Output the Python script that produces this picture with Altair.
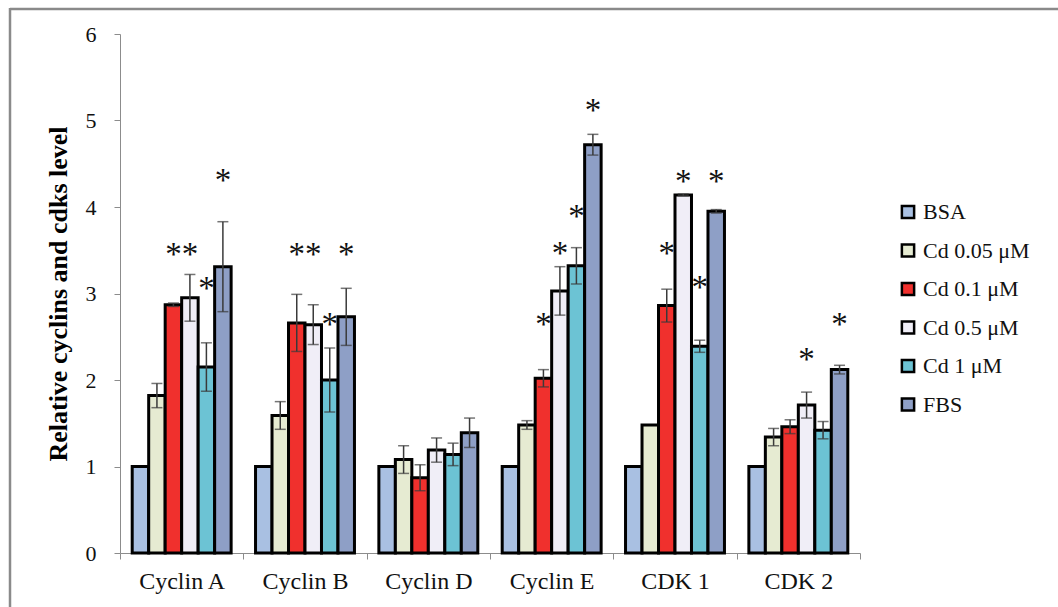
import altair as alt
import pandas as pd

# Protein groups on the x axis and the six culture treatments
categories = ["Cyclin A", "Cyclin B", "Cyclin D", "Cyclin E", "CDK 1", "CDK 2"]
treatments = ["BSA", "Cd 0.05 μM", "Cd 0.1 μM", "Cd 0.5 μM", "Cd 1 μM", "FBS"]

# Mean relative levels, one list per treatment (same order as categories)
bsa = [1.00, 1.00, 1.00, 1.00, 1.00, 1.00]
cd005 = [1.82, 1.59, 1.08, 1.48, 1.48, 1.34]
cd01 = [2.87, 2.66, 0.87, 2.02, 2.86, 1.46]
cd05 = [2.95, 2.64, 1.19, 3.03, 4.14, 1.71]
cd1 = [2.15, 2.00, 1.14, 3.32, 2.39, 1.42]
fbs = [3.31, 2.73, 1.39, 4.72, 3.95, 2.12]

# Standard errors (0 = no error bar drawn)
bsa_err = [0, 0, 0, 0, 0, 0]
cd005_err = [0.14, 0.16, 0.16, 0.05, 0, 0.10]
cd01_err = [0.02, 0.33, 0.15, 0.10, 0.19, 0.08]
cd05_err = [0.27, 0.23, 0.14, 0.28, 0.01, 0.15]
cd1_err = [0.28, 0.37, 0.13, 0.21, 0.07, 0.10]
fbs_err = [0.52, 0.33, 0.17, 0.12, 0.02, 0.05]

# Significance markers: group, treatment and height of the asterisk
star_category = ["Cyclin A", "Cyclin A", "Cyclin A", "Cyclin A",
                 "Cyclin B", "Cyclin B", "Cyclin B", "Cyclin B",
                 "Cyclin E", "Cyclin E", "Cyclin E", "Cyclin E",
                 "CDK 1", "CDK 1", "CDK 1", "CDK 1",
                 "CDK 2", "CDK 2"]
star_treatment = ["Cd 0.1 μM", "Cd 0.5 μM", "Cd 1 μM", "FBS",
                  "Cd 0.1 μM", "Cd 0.5 μM", "Cd 1 μM", "FBS",
                  "Cd 0.1 μM", "Cd 0.5 μM", "Cd 1 μM", "FBS",
                  "Cd 0.1 μM", "Cd 0.5 μM", "Cd 1 μM", "FBS",
                  "Cd 0.5 μM", "FBS"]
star_y = [3.52, 3.52, 3.12, 4.37,
          3.52, 3.52, 2.70, 3.52,
          2.70, 3.53, 3.95, 5.18,
          3.53, 4.36, 3.13, 4.36,
          2.30, 2.71]

fill_colors = ["#a9c0e2", "#e6ebd2", "#f0302d", "#f0eef7", "#6cc3d4", "#8e9fc6"]

means = [bsa, cd005, cd01, cd05, cd1, fbs]
errors = [bsa_err, cd005_err, cd01_err, cd05_err, cd1_err, fbs_err]

rows = []
for t, vals, errs in zip(treatments, means, errors):
    for c, v, e in zip(categories, vals, errs):
        rows.append({"category": c, "treatment": t, "value": v,
                     "lo": v - e, "hi": v + e, "err": e})
df = pd.DataFrame(rows)
err_df = df[df["err"] > 0]
star_df = pd.DataFrame({"category": star_category,
                        "treatment": star_treatment,
                        "y": star_y})

SERIF = "Liberation Serif"

x_enc = alt.X(
    "category:N", sort=categories, title=None,
    scale=alt.Scale(paddingInner=0, paddingOuter=0),
    axis=alt.Axis(labelFont=SERIF, labelFontSize=24, labelColor="#111",
                  labelAngle=0, labelPadding=10, domainColor="#8c8c8c",
                  tickColor="#8c8c8c", tickSize=6, tickBand="extent",
                  grid=False),
)
xoff_enc = alt.XOffset(
    "treatment:N", sort=treatments,
    scale=alt.Scale(paddingInner=0, paddingOuter=0.74),
)
y_scale = alt.Scale(domain=[0, 6], nice=False, zero=True)

bars = alt.Chart(df).mark_bar(
    stroke="#000000", strokeWidth=3, strokeOpacity=1, strokeJoin="miter"
).encode(
    x=x_enc,
    xOffset=xoff_enc,
    y=alt.Y(
        "value:Q", scale=y_scale,
        title="Relative  cyclins and cdks level",
        axis=alt.Axis(values=[0, 1, 2, 3, 4, 5, 6], format="d", grid=False,
                      labelFont=SERIF, labelFontSize=22, labelColor="#111",
                      labelPadding=18, tickColor="#8c8c8c", tickSize=6,
                      domainColor="#8c8c8c",
                      titleFont=SERIF, titleFontSize=26, titleFontWeight="bold",
                      titleColor="black", titleX=-54, titleY=259.5,
                      titleAngle=-90, titleAlign="center",
                      titleBaseline="alphabetic"),
    ),
    fill=alt.Fill(
        "treatment:N", sort=treatments,
        scale=alt.Scale(domain=treatments, range=fill_colors),
        legend=alt.Legend(title=None, orient="none", legendX=777,
                          legendY=167, symbolType="square", symbolSize=150,
                          symbolStrokeColor="black", symbolStrokeWidth=2.5,
                          symbolOpacity=1, labelFont=SERIF, labelFontSize=22,
                          labelColor="#111", labelOffset=4, rowPadding=14.5,
                          padding=0),
    ),
)

whiskers = alt.Chart(err_df).mark_rule(color="#3a3a3a", strokeWidth=1.5).encode(
    x=alt.X("category:N", sort=categories),
    xOffset=alt.XOffset("treatment:N", sort=treatments),
    y=alt.Y("lo:Q", scale=y_scale),
    y2="hi:Q",
)

caps_top = alt.Chart(err_df).mark_tick(
    color="#3a3a3a", orient="horizontal", size=11, thickness=1.5
).encode(
    x=alt.X("category:N", sort=categories),
    xOffset=alt.XOffset("treatment:N", sort=treatments),
    y=alt.Y("hi:Q", scale=y_scale),
)

caps_bottom = alt.Chart(err_df).mark_tick(
    color="#3a3a3a", orient="horizontal", size=11, thickness=1.5
).encode(
    x=alt.X("category:N", sort=categories),
    xOffset=alt.XOffset("treatment:N", sort=treatments),
    y=alt.Y("lo:Q", scale=y_scale),
)

stars = alt.Chart(star_df).mark_text(
    text="*", font=SERIF, fontSize=33, color="#111",
    baseline="alphabetic", dy=16,
).encode(
    x=alt.X("category:N", sort=categories),
    xOffset=alt.XOffset("treatment:N", sort=treatments),
    y=alt.Y("y:Q", scale=y_scale),
)

# Grey frame along the top and left edge of the figure
frame_top = alt.Chart(pd.DataFrame({"k": [0]})).mark_rule(
    color="#8a8a8a", strokeWidth=2.5
).encode(x=alt.value(-110), x2=alt.value(960), y=alt.value(-25))
frame_left = alt.Chart(pd.DataFrame({"k": [0]})).mark_rule(
    color="#8a8a8a", strokeWidth=2.5
).encode(x=alt.value(-110), y=alt.value(-26), y2=alt.value(600))

chart = alt.layer(
    frame_top, frame_left, bars, whiskers, caps_top, caps_bottom, stars
).resolve_scale(fill="independent").properties(
    width=740,
    height=519,
    autosize=alt.AutoSizeParams(type="none"),
    padding={"left": 120, "top": 34, "right": 198, "bottom": 54},
    background="white",
).configure_view(stroke=None)

chart.save("out.html", embed_options={"renderer": "svg", "actions": False})
